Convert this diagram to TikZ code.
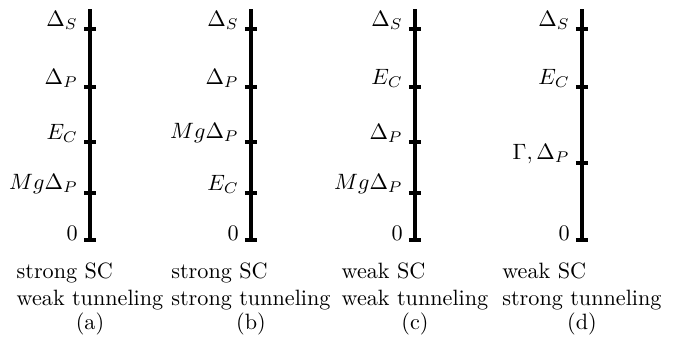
\documentclass[tikz,border=0pt]{standalone}
\usepackage{amsmath, amssymb}
\usepackage{tikz}
\usetikzlibrary{calc, positioning}

\tikzset{
  axisline/.style={line width=1.6pt},
  lvl/.style={anchor=south east, inner xsep=2pt, inner ysep=0pt, yshift=-1pt},
  regime/.style={anchor=base, align=left},
}

\begin{document}
\begin{tikzpicture}
  \useasboundingbox (-1.426,-1.663) rectangle (9.346,3.802);
  % (a) strong SC, weak tunneling
  \coordinate (a0) at (0,0);
  \coordinate (atop) at (0,3.66);
  \draw[axisline] (a0) -- (atop);
  \foreach \y/\lab [count=\i] in {0/0, 0.744/Mg\Delta_P, 1.552/E_C, 2.424/\Delta_P, 3.342/\Delta_S}
    \draw[axisline] (-0.095,\y) -- (0.095,\y) node[lvl, at start] (a\i) {$\lab$};
  \node[regime] (acap) at (0,-1.03) {strong SC\\weak tunneling};
  \node[anchor=base] (alab) at (0,-1.41) {(a)};
  % (b) strong SC, strong tunneling
  \begin{scope}[xshift=2.55cm]
    \coordinate (b0) at (0,0);
    \coordinate (btop) at (0,3.66);
    \draw[axisline] (b0) -- (btop);
    \foreach \y/\lab [count=\i] in {0/0, 0.744/E_C, 1.552/Mg\Delta_P, 2.424/\Delta_P, 3.342/\Delta_S}
      \draw[axisline] (-0.095,\y) -- (0.095,\y) node[lvl, at start] (b\i) {$\lab$};
    \node[regime] (bcap) at (0,-1.03) {strong SC\\strong tunneling};
    \node[anchor=base] (blab) at (0,-1.41) {(b)};
  \end{scope}
  % (c) weak SC, weak tunneling
  \begin{scope}[xshift=5.148cm]
    \coordinate (c0) at (0,0);
    \coordinate (ctop) at (0,3.66);
    \draw[axisline] (c0) -- (ctop);
    \foreach \y/\lab [count=\i] in {0/0, 0.744/Mg\Delta_P, 1.552/\Delta_P, 2.424/E_C, 3.342/\Delta_S}
      \draw[axisline] (-0.095,\y) -- (0.095,\y) node[lvl, at start] (c\i) {$\lab$};
    \node[regime] (ccap) at (0,-1.03) {weak SC\\weak tunneling};
    \node[anchor=base] (clab) at (0,-1.41) {(c)};
  \end{scope}
  % (d) weak SC, strong tunneling
  \begin{scope}[xshift=7.793cm]
    \coordinate (d0) at (0,0);
    \coordinate (dtop) at (0,3.66);
    \draw[axisline] (d0) -- (dtop);
    \foreach \y/\lab [count=\i] in {0/0, 1.22/{\Gamma,\Delta_P}, 2.424/E_C, 3.342/\Delta_S}
      \draw[axisline] (-0.095,\y) -- (0.095,\y) node[lvl, at start] (d\i) {$\lab$};
    \node[regime] (dcap) at (0,-1.03) {weak SC\\strong tunneling};
    \node[anchor=base] (dlab) at (0,-1.41) {(d)};
  \end{scope}
\end{tikzpicture}
\end{document}
